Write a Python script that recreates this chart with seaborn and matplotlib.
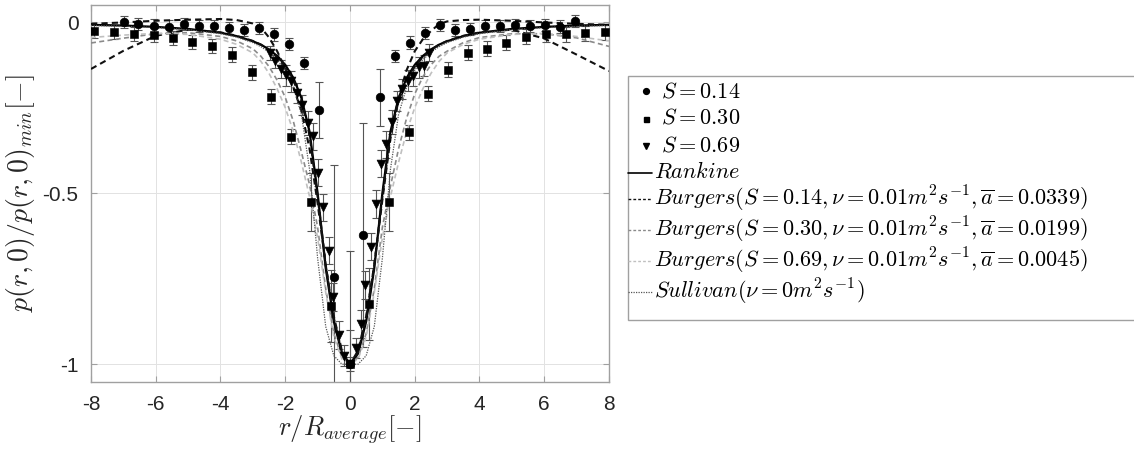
import matplotlib
matplotlib.use("Agg")
import matplotlib.pyplot as plt
import seaborn as sns
from matplotlib.lines import Line2D
from matplotlib.patches import Rectangle

S014_X = [-6.98, -6.54, -6.06, -5.59, -5.14, -4.66, -4.20, -3.74, -3.26, -2.81, -2.35, -1.87, -1.41,
          -0.95, -0.48, 0.0, 0.40, 0.93, 1.38, 1.84, 2.32, 2.78, 3.24, 3.71, 4.18, 4.63, 5.10, 5.56,
          6.03, 6.49, 6.96]
S014_Y = [0.0, -0.005, -0.010, -0.013, -0.006, -0.012, -0.012, -0.017, -0.023, -0.018, -0.036, -0.063,
          -0.120, -0.257, -0.746, -1.0, -0.622, -0.220, -0.100, -0.060, -0.031, -0.009, -0.024, -0.021,
          -0.011, -0.012, -0.009, -0.012, -0.009, -0.013, 0.003]
S014_ERR = [0.018, 0.018, 0.018, 0.018, 0.018, 0.018, 0.018, 0.018, 0.018, 0.018, 0.018, 0.018, 0.018,
            0.083, 0.327, 0.33, 0.327, 0.083, 0.018, 0.018, 0.018, 0.018, 0.018, 0.018, 0.018, 0.018,
            0.018, 0.018, 0.018, 0.018, 0.018]

S030_X = [-7.91, -7.28, -6.67, -6.06, -5.47, -4.87, -4.26, -3.65, -3.04, -2.43, -1.82, -1.21, -0.60, 0.0,
          0.58, 1.20, 1.82, 2.42, 3.03, 3.63, 4.23, 4.83, 5.44, 6.05, 6.66, 7.27, 7.88]
S030_Y = [-0.025, -0.028, -0.035, -0.037, -0.046, -0.058, -0.070, -0.096, -0.146, -0.218, -0.335, -0.525,
          -0.830, -1.0, -0.825, -0.525, -0.322, -0.210, -0.139, -0.089, -0.078, -0.060, -0.043, -0.035,
          -0.035, -0.032, -0.029]
S030_ERR = [0.02, 0.02, 0.02, 0.02, 0.02, 0.02, 0.02, 0.022, 0.022, 0.022, 0.022, 0.085, 0.105, 0.10,
            0.105, 0.085, 0.022, 0.022, 0.022, 0.022, 0.022, 0.022, 0.022, 0.022, 0.022, 0.022, 0.022]

S069_X = [-2.47, -2.31, -2.13, -1.98, -1.81, -1.65, -1.48, -1.31, -1.15, -0.99, -0.82, -0.66, -0.52,
          -0.33, -0.18, 0.0, 0.17, 0.33, 0.47, 0.64, 0.80, 0.95, 1.11, 1.29, 1.46, 1.62, 1.78, 1.95,
          2.12, 2.28, 2.44]
S069_Y = [-0.090, -0.115, -0.137, -0.156, -0.173, -0.207, -0.242, -0.295, -0.334, -0.440, -0.541, -0.668,
          -0.804, -0.915, -0.975, -1.0, -0.953, -0.882, -0.768, -0.656, -0.532, -0.414, -0.357, -0.293,
          -0.230, -0.196, -0.171, -0.158, -0.132, -0.127, -0.090]
S069_ERR = [0.02, 0.02, 0.025, 0.03, 0.03, 0.03, 0.03, 0.035, 0.04, 0.04, 0.04, 0.04, 0.04, 0.04, 0.03,
            0.02, 0.03, 0.04, 0.04, 0.04, 0.04, 0.04, 0.04, 0.035, 0.03, 0.03, 0.03, 0.03, 0.03, 0.03,
            0.025]

# model curves, read at these radii
CURVE_X = [-8, -7, -6, -5, -4, -3.5, -3, -2.75, -2.5, -2.25, -2, -1.75, -1.5, -1.25, -1, -0.75, -0.5,
           -0.25, 0, 0.25, 0.5, 0.75, 1, 1.25, 1.5, 1.75, 2, 2.25, 2.5, 2.75, 3, 3.5, 4, 5, 6, 7, 8]
RANKINE = [-0.008, -0.010, -0.014, -0.020, -0.031, -0.041, -0.056, -0.066, -0.080, -0.099, -0.125,
           -0.163, -0.222, -0.320, -0.500, -0.719, -0.875, -0.969, -1.0,
           -0.969, -0.875, -0.719, -0.500, -0.320, -0.222, -0.163, -0.125, -0.099, -0.080, -0.066,
           -0.056, -0.041, -0.031, -0.020, -0.014, -0.010, -0.008]
BURGERS_014_A = [-0.005, -0.001, 0.004, 0.007, 0.009, 0.006, -0.004, -0.016, -0.045, -0.085, -0.135,
                 -0.190, -0.260, -0.370, -0.530, -0.710, -0.860, -0.960, -1.0,
                 -0.960, -0.860, -0.710, -0.520, -0.340, -0.220, -0.140, -0.085, -0.050, -0.026, -0.006,
                 0.002, 0.006, 0.007, 0.004, -0.001, -0.005, -0.008]
BURGERS_014_B = [-0.137, -0.084, -0.040, -0.022, -0.030, -0.040, -0.055, -0.066, -0.082, -0.102, -0.130,
                 -0.170, -0.230, -0.330, -0.510, -0.710, -0.865, -0.965, -1.0,
                 -0.965, -0.865, -0.710, -0.510, -0.330, -0.230, -0.170, -0.130, -0.102, -0.082, -0.066,
                 -0.055, -0.040, -0.030, -0.022, -0.048, -0.095, -0.143]
BURGERS_030 = [-0.061, -0.047, -0.034, -0.031, -0.042, -0.055, -0.078, -0.100, -0.130, -0.170, -0.220,
               -0.290, -0.380, -0.475, -0.600, -0.780, -0.910, -0.980, -1.0,
               -0.980, -0.910, -0.780, -0.600, -0.480, -0.370, -0.280, -0.210, -0.160, -0.125, -0.100,
               -0.085, -0.060, -0.045, -0.034, -0.034, -0.046, -0.071]
BURGERS_069 = [-0.045, -0.038, -0.033, -0.036, -0.050, -0.065, -0.090, -0.115, -0.150, -0.195, -0.250,
               -0.320, -0.410, -0.510, -0.630, -0.790, -0.920, -0.985, -1.0,
               -0.985, -0.920, -0.790, -0.630, -0.510, -0.410, -0.320, -0.250, -0.195, -0.150, -0.115,
               -0.090, -0.065, -0.050, -0.036, -0.033, -0.042, -0.055]
SULLIVAN = [-0.010, -0.012, -0.016, -0.022, -0.034, -0.044, -0.060, -0.072, -0.088, -0.110, -0.140,
            -0.190, -0.270, -0.430, -0.690, -0.890, -0.975, -1.0, -1.0,
            -1.0, -0.975, -0.890, -0.690, -0.430, -0.270, -0.190, -0.140, -0.110, -0.088, -0.072,
            -0.060, -0.044, -0.034, -0.022, -0.016, -0.012, -0.010]

LABELS = [
    r"$S = 0.14$",
    r"$S = 0.30$",
    r"$S = 0.69$",
    r"$Rankine$",
    r"$Burgers(S = 0.14, \nu = 0.01m^2s^{-1}, \overline{a} = 0.0339)$",
    r"$Burgers(S = 0.30, \nu = 0.01m^2s^{-1}, \overline{a} = 0.0199)$",
    r"$Burgers(S = 0.69, \nu = 0.01m^2s^{-1}, \overline{a} = 0.0045)$",
    r"$Sullivan(\nu = 0m^2s^{-1})$",
]

W, H = 1134, 449


def fx(px):
    return px / W


def fy(py):
    return 1 - py / H


sns.set_theme(style="whitegrid")
plt.rcParams["font.family"] = ["Liberation Sans", "DejaVu Sans"]
plt.rcParams["mathtext.fontset"] = "cm"
plt.rcParams["axes.unicode_minus"] = False

fig = plt.figure(figsize=(W / 100, H / 100), dpi=100)
ax = fig.add_axes([fx(91), fy(382), 518 / W, 377 / H])
ax.set_facecolor("white")

dash = (0, (3, 2))
curve_styles = [
    (RANKINE, "#000000", "-", 1.6),
    (BURGERS_014_A, "#111111", dash, 1.5),
    (BURGERS_014_B, "#111111", dash, 1.5),
    (BURGERS_030, "#8a8a8a", dash, 1.2),
    (BURGERS_069, "#c0c0c0", dash, 1.2),
    (SULLIVAN, "#555555", (0, (1, 1)), 0.9),
]
for values, color, ls, lw in curve_styles:
    sns.lineplot(x=CURVE_X, y=values, ax=ax, color=color, linestyle=ls, linewidth=lw,
                 sort=False, estimator=None, zorder=3)

err_kw = dict(fmt="none", ecolor="#555555", elinewidth=0.8, capsize=3.2, capthick=0.8, zorder=2)
ax.errorbar(S014_X, S014_Y, yerr=S014_ERR, **err_kw)
ax.errorbar(S030_X, S030_Y, yerr=S030_ERR, **err_kw)
ax.errorbar(S069_X, S069_Y, yerr=S069_ERR, **err_kw)

sns.scatterplot(x=S014_X, y=S014_Y, ax=ax, marker="o", s=38, color="black", edgecolor="black", zorder=4)
sns.scatterplot(x=S030_X, y=S030_Y, ax=ax, marker="s", s=26, color="black", edgecolor="black", zorder=4)
sns.scatterplot(x=S069_X, y=S069_Y, ax=ax, marker="v", s=40, color="black", edgecolor="black", zorder=4)

ax.set_xlim(-8, 8)
ax.set_ylim(-1.052, 0.05)
ax.set_xticks([-8, -6, -4, -2, 0, 2, 4, 6, 8])
ax.set_yticks([-1, -0.5, 0])
ax.set_yticklabels(["-1", "-0.5", "0"])
ax.grid(True, color="#e2e2e2", linewidth=0.7)
for sp in ax.spines.values():
    sp.set_color("#a0a0a0")
    sp.set_linewidth(1.0)
ax.tick_params(direction="in", length=4, width=0.8, color="#a0a0a0", labelsize=15,
               labelcolor="#262626", pad=9, top=True, right=True, bottom=True, left=True)

ax.set_xlabel(r"$r/R_{average}[-]$", fontsize=19, labelpad=0, color="#262626")
ax.set_ylabel(r"$p(r,0)/p(r,0)_{min}[-]$", fontsize=20, labelpad=4, color="#262626")

# legend drawn by hand: rows stacked tightly like the MATLAB legend
markers = [("o", 4.2), ("s", 3.6), ("v", 4.2)]
line_handles = [
    ("#000000", "-", 1.2),
    ("#111111", (0, (2, 1.5)), 1.0),
    ("#8a8a8a", (0, (2, 1.5)), 1.0),
    ("#c0c0c0", (0, (2, 1.5)), 1.0),
    ("#555555", (0, (1, 1)), 0.9),
]
renderer = fig.canvas.get_renderer()
top = 81.0
for i, label in enumerate(LABELS):
    tx = 661 if i < 3 else 654
    t = fig.text(fx(tx), fy(top), label, fontsize=16, va="top", ha="left", color="black", zorder=3)
    bb = t.get_window_extent(renderer=renderer)
    h = bb.height
    yc = top + h / 2
    if i < 3:
        m, ms = markers[i]
        fig.add_artist(Line2D([fx(646)], [fy(yc)], marker=m, markersize=ms, color="black",
                              linestyle="none", transform=fig.transFigure, zorder=2))
        top += max(h + 2, 27)
    else:
        c, ls, lw = line_handles[i - 3]
        fig.add_artist(Line2D([fx(628), fx(652)], [fy(yc), fy(yc)], color=c, linestyle=ls,
                              linewidth=lw, transform=fig.transFigure, zorder=2))
        top += h + 1
box_bottom = max(309, top + 12)
fig.add_artist(Rectangle((fx(628), fy(box_bottom)), fx(1140) - fx(628), fy(76) - fy(box_bottom),
                         transform=fig.transFigure, facecolor="white", edgecolor="#a0a0a0",
                         linewidth=1.0, zorder=1))

fig.savefig("out.png", dpi=100)
